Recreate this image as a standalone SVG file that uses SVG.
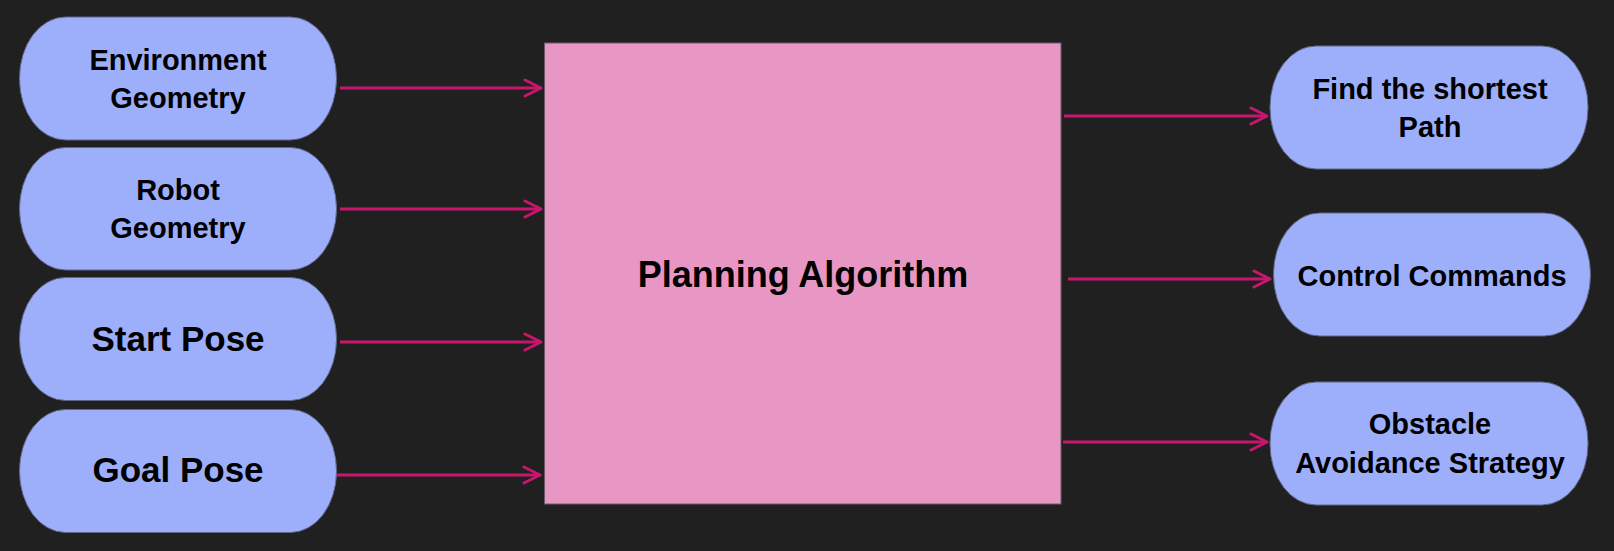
<svg xmlns="http://www.w3.org/2000/svg" width="1614" height="551" viewBox="0 0 1614 551">
<style>
.bg{fill:#202020}
.pill{fill:#9daefb;stroke:#5f6687;stroke-width:1}
.core{fill:#e897c4;stroke:#6a5a66;stroke-width:1}
.t{font-family:"Liberation Sans",Arial,sans-serif;font-weight:bold;fill:#000;text-anchor:middle}
.s29{font-size:29px}
.s35{font-size:35px}
.s36{font-size:36px}
.conn{stroke:#c8166e;stroke-width:3;fill:none;marker-end:url(#arr)}
</style>
<defs>
<marker id="arr" markerUnits="userSpaceOnUse" viewBox="0 0 20 20" refX="18" refY="10" markerWidth="20" markerHeight="20" orient="auto">
<path d="M2,2 L18,10 L2,18" fill="none" stroke="#c8166e" stroke-width="3" stroke-linecap="round" stroke-linejoin="round"/>
</marker>
</defs>
<rect class="bg" x="0" y="0" width="1614" height="551"/>
<g id="connectors">
<line class="conn" x1="340" y1="88" x2="541" y2="88"/>
<line class="conn" x1="340" y1="209" x2="541" y2="209"/>
<line class="conn" x1="340" y1="342" x2="541" y2="342"/>
<line class="conn" x1="336" y1="475" x2="540" y2="475"/>
<line class="conn" x1="1064" y1="116" x2="1267" y2="116"/>
<line class="conn" x1="1068" y1="279" x2="1270" y2="279"/>
<line class="conn" x1="1063" y1="442" x2="1267" y2="442"/>
</g>
<g id="env">
<rect class="pill" x="19.5" y="17" width="317" height="123" rx="46" ry="61"/>
<text class="t s29" x="178" y="70">Environment</text>
<text class="t s29" x="178" y="107.5">Geometry</text>
</g>
<g id="robot">
<rect class="pill" x="19.5" y="147.5" width="317" height="122.5" rx="46" ry="61"/>
<text class="t s29" x="178" y="200">Robot</text>
<text class="t s29" x="178" y="237.5">Geometry</text>
</g>
<g id="start">
<rect class="pill" x="19.5" y="277.5" width="317" height="123" rx="46" ry="61"/>
<text class="t s35" x="178" y="351">Start Pose</text>
</g>
<g id="goal">
<rect class="pill" x="19.5" y="409.5" width="317" height="123" rx="46" ry="61"/>
<text class="t s35" x="178" y="482">Goal Pose</text>
</g>
<g id="planner">
<rect class="core" x="544.5" y="43" width="516.5" height="461"/>
<text class="t s36" x="803" y="287">Planning Algorithm</text>
</g>
<g id="shortest">
<rect class="pill" x="1270" y="46" width="318" height="123" rx="46" ry="61"/>
<text class="t s29" x="1430" y="99">Find the shortest</text>
<text class="t s29" x="1430" y="137">Path</text>
</g>
<g id="control">
<rect class="pill" x="1273.5" y="213" width="317" height="123" rx="46" ry="61"/>
<text class="t s29" x="1432" y="286">Control Commands</text>
</g>
<g id="obstacle">
<rect class="pill" x="1270" y="382" width="318" height="123" rx="46" ry="61"/>
<text class="t s29" x="1430" y="434">Obstacle</text>
<text class="t s29" x="1430" y="473">Avoidance Strategy</text>
</g>
</svg>
